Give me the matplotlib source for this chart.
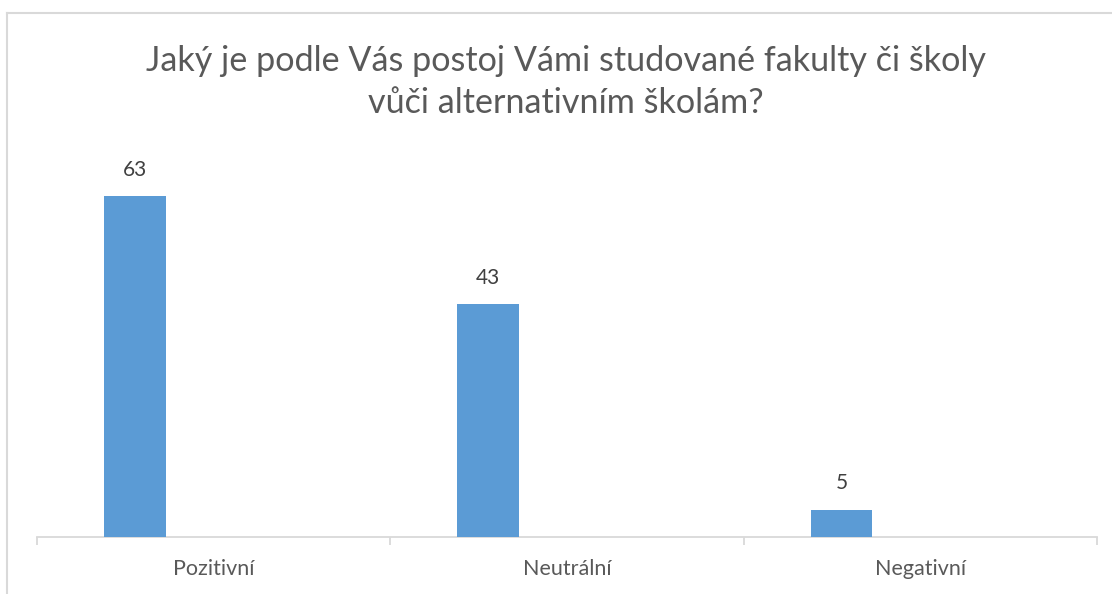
import matplotlib
matplotlib.use("Agg")
import matplotlib.pyplot as plt
from matplotlib.lines import Line2D

categories = ["Pozitivní", "Neutrální", "Negativní"]
values = [63, 43, 5]
title = "Jaký je podle Vás postoj Vámi studované fakulty či školy\nvůči alternativním školám?"

plt.rcParams['font.family'] = ['Lato', 'DejaVu Sans']

W, H = 1112, 594
fig = plt.figure(figsize=(W / 100, H / 100), dpi=100)

# axes in pixel coords: x 37..1097, baseline y=537, top (70) at y=158
x0, x1 = 37, 1097
yb, yt = 537, 537 - 70 * 5.41
ax = fig.add_axes([x0 / W, 1 - yb / H, (x1 - x0) / W, (yb - yt) / H])
ax.set_xlim(-0.5, len(categories) - 0.5)
ax.set_ylim(0, 70)

pos = [i - 0.223 for i in range(len(categories))]
bars = ax.bar(pos, values, width=0.175, color="#5B9BD5", zorder=3)
for p, v in zip(pos, values):
    ax.annotate(str(v), (p, v), xytext=(0, 12), textcoords="offset points",
                ha="center", va="bottom", fontsize=15, color="#404040")

for s in ["top", "right", "left"]:
    ax.spines[s].set_visible(False)
ax.spines["bottom"].set_color("#D9D9D9")
ax.spines["bottom"].set_linewidth(1.3)
ax.set_yticks([])
ax.set_xticks([i - 0.5 for i in range(len(categories) + 1)], minor=False)
ax.set_xticklabels([])
ax.tick_params(axis="x", length=6, width=1.3, color="#D9D9D9", direction="out")
ax.set_xticks(range(len(categories)), minor=True)
ax.set_xticklabels(categories, minor=True)
ax.tick_params(axis="x", which="minor", length=0, pad=16, labelsize=15.5, labelcolor="#595959")

fig.text(566 / W, 1 - 82 / H, title, ha="center", va="center", fontsize=24.6,
         color="#595959", linespacing=1.4)

# chart border (top and left visible)
fig.add_artist(Line2D([7 / W, 7 / W], [0, 1 - 13 / H], transform=fig.transFigure,
                      color="#D9D9D9", lw=1.5))
fig.add_artist(Line2D([7 / W, 1], [1 - 13 / H, 1 - 13 / H], transform=fig.transFigure,
                      color="#D9D9D9", lw=1.5))

fig.savefig("out.png", dpi=100, facecolor="white")
